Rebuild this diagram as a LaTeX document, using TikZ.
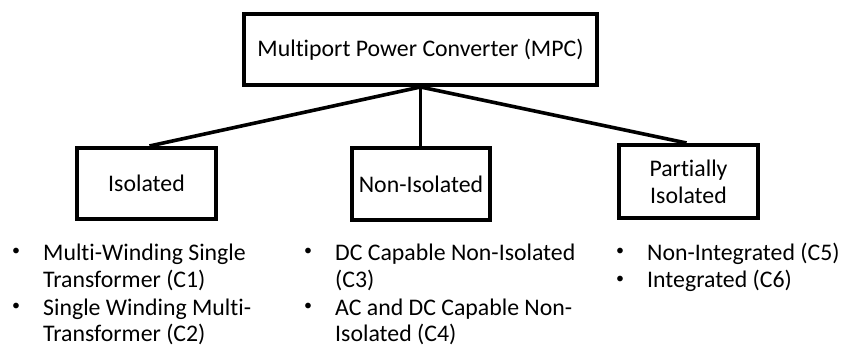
\documentclass[tikz,border=0pt]{standalone}
\usepackage{fontspec}
\setmainfont{Carlito}[Ligatures={NoCommon}]
\begin{document}
\begin{tikzpicture}[x=1pt, y=-1pt,
  box/.style={draw=black, line width=4pt, inner sep=0pt, align=center,
    font=\fontsize{23.8}{28}\selectfont},
  link/.style={draw=black, line width=3.6pt},
  itemtext/.style={anchor=base west, inner sep=0pt, font=\fontsize{23.8}{28}\selectfont},
  bullet/.style={anchor=center, inner sep=0pt, font=\fontsize{16}{16}\selectfont}]
  \useasboundingbox (0,0) rectangle (842,347);

  % category boxes
  \node[box, minimum width=353pt, minimum height=71pt] (mpc) at (420.5,49.5)
    {Multiport Power Converter (MPC)};
  \node[box, minimum width=139pt, minimum height=71pt] (iso) at (146.5,183.5)
    {Isolated};
  \node[box, minimum width=138pt, minimum height=72pt] (noniso) at (421,184)
    {Non-Isolated};
  \node[box, minimum width=139pt, minimum height=73pt] (partiso) at (688.5,181.5)
    {Partially\\[-1pt]Isolated};

  % connectors from the root box
  \draw[link] (mpc.south) -- ([xshift=3pt]iso.north);
  \draw[link] (mpc.south) -- (mpc.south |- noniso.north);
  \draw[link] (mpc.south) -- ([xshift=-2pt]partiso.north);

  % Isolated sub-types
  \node[bullet] (b1) at (16,252) {•};
  \node[itemtext] (c1a) at (43,260) {Multi-Winding Single};
  \node[itemtext] (c1b) at (43,287.5) {Transformer (C1)};
  \node[bullet] (b2) at (16,307) {•};
  \node[itemtext] (c2a) at (43,315) {Single Winding Multi-};
  \node[itemtext] (c2b) at (43,341.5) {Transformer (C2)};

  % Non-Isolated sub-types
  \node[bullet] (b3) at (308,252) {•};
  \node[itemtext] (c3a) at (335,260) {DC Capable Non-Isolated};
  \node[itemtext] (c3b) at (335,287.5) {(C3)};
  \node[bullet] (b4) at (308,307) {•};
  \node[itemtext] (c4a) at (335,315) {AC and DC Capable Non-};
  \node[itemtext] (c4b) at (335,341.5) {Isolated (C4)};

  % Partially Isolated sub-types
  \node[bullet] (b5) at (620,252) {•};
  \node[itemtext] (c5) at (647,260) {Non-Integrated (C5)};
  \node[bullet] (b6) at (620,280) {•};
  \node[itemtext] (c6) at (647,287.5) {Integrated (C6)};
\end{tikzpicture}
\end{document}
